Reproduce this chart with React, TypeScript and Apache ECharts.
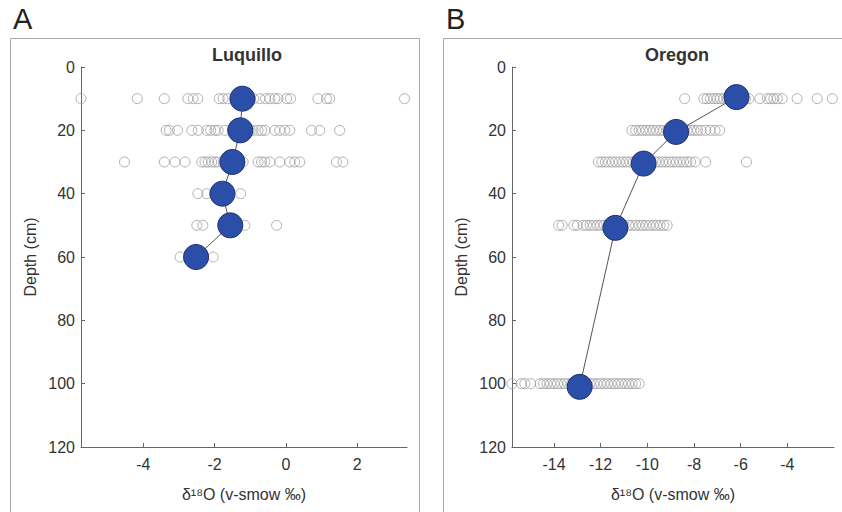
import React, { useEffect, useRef } from "react";
import * as echarts from "echarts";

// ---------- Data ----------
const luqTicks = [-4, -2, 0, 2];
const oreTicks = [-14, -12, -10, -8, -6, -4];

// Luquillo individual samples (δ18O) by depth
const luqDepths = [10, 20, 30, 40, 50, 60];
const luq10 = [-5.75, -4.17, -3.41, -2.75, -2.6, -2.47, -1.87, -1.76, -1.63, -1.4, -1.0, -0.9, -0.73, -0.57, -0.45, -0.31, -0.22, 0.02, 0.13, 0.9, 1.14, 1.23, 3.33];
const luq20 = [-3.36, -3.27, -3.04, -2.64, -2.46, -2.22, -2.11, -1.99, -1.9, -1.71, -1.5, -1.1, -1.0, -0.92, -0.78, -0.68, -0.59, -0.31, -0.17, -0.03, 0.11, 0.72, 0.95, 1.51];
const luq30 = [-4.53, -3.41, -3.11, -2.83, -2.36, -2.27, -2.18, -2.08, -1.99, -1.9, -1.76, -1.6, -1.4, -1.3, -1.2, -0.78, -0.68, -0.59, -0.45, -0.17, 0.11, 0.25, 0.39, 1.42, 1.6];
const luq40 = [-2.47, -2.22, -2.0, -1.27];
const luq50 = [-2.5, -2.33, -1.15, -0.26];
const luq60 = [-2.97, -2.04];
const luqMeans = [-1.22, -1.28, -1.5, -1.78, -1.56, -2.52];

// Oregon individual samples (δ18O) by depth
const oreDepths = [10, 20, 30, 50, 100];
const oreMeanDepths = [9.5, 20.5, 30.5, 50.8, 101];
const ore10 = [-8.4, -7.58, -7.44, -7.3, -7.15, -7.01, -6.87, -6.73, -6.58, -6.4, -6.2, -6.0, -5.9, -5.8, -5.65, -5.18, -4.86, -4.72, -4.58, -4.43, -4.22, -3.58, -2.72, -2.07];
const ore20 = [-10.66, -10.5, -10.35, -10.2, -10.05, -9.9, -9.75, -9.6, -9.45, -9.3, -9.16, -8.9, -8.6, -8.44, -8.3, -8.15, -8.0, -7.85, -7.7, -7.5, -7.3, -7.1, -6.9];
const ore30 = [-12.1, -11.95, -11.8, -11.65, -11.5, -11.35, -11.2, -11.05, -10.9, -10.75, -10.6, -10.3, -9.9, -9.65, -9.5, -9.35, -9.2, -9.05, -8.9, -8.75, -8.6, -8.45, -8.3, -8.15, -7.95, -7.5, -5.75];
const ore50 = [-13.8, -13.65, -13.15, -13.0, -12.75, -12.6, -12.45, -12.3, -12.15, -12.0, -11.85, -11.6, -11.2, -11.0, -10.8, -10.65, -10.5, -10.35, -10.2, -10.05, -9.9, -9.75, -9.6, -9.45, -9.3, -9.15];
const ore100 = [-15.8, -15.4, -15.25, -15.0, -14.6, -14.45, -14.3, -14.15, -14.0, -13.85, -13.7, -13.55, -13.4, -13.25, -13.0, -12.8, -12.6, -12.45, -12.3, -12.15, -12.0, -11.85, -11.7, -11.55, -11.4, -11.25, -11.1, -10.95, -10.8, -10.65, -10.5, -10.35];
const oreMeans = [-6.18, -8.77, -10.16, -11.37, -12.9];

const luqSamples = [luq10, luq20, luq30, luq40, luq50, luq60];
const oreSamples = [ore10, ore20, ore30, ore50, ore100];

function toPairs(groups: number[][], depths: number[]) {
  const out: number[][] = [];
  groups.forEach((g, i) => g.forEach((v) => out.push([v, depths[i]])));
  return out;
}

const FONT = "Liberation Sans, Arial, sans-serif";
const TXT = "#333";
const AXIS = "#666";

function xAxisFor(gridIndex: number, min: number, max: number, ticks: number[]) {
  return {
    type: "value",
    gridIndex,
    min,
    max,
    position: "bottom",
    name: "δ¹⁸O (v-smow ‰)",
    nameLocation: "middle",
    nameGap: 39,
    nameTextStyle: { color: TXT, fontSize: 16, fontFamily: FONT },
    splitLine: { show: false },
    axisLine: { show: true, onZero: false, lineStyle: { color: AXIS, width: 1 } },
    axisTick: { show: true, inside: true, length: 4, customValues: ticks, lineStyle: { color: AXIS } },
    axisLabel: { customValues: ticks, color: TXT, fontSize: 16, fontFamily: FONT, margin: 9 },
  };
}

function yAxisFor(gridIndex: number) {
  return {
    type: "value",
    gridIndex,
    min: 0,
    max: 120,
    interval: 20,
    inverse: true,
    name: "Depth (cm)",
    nameLocation: "middle",
    nameGap: 43,
    nameTextStyle: { color: TXT, fontSize: 16, fontFamily: FONT },
    splitLine: { show: false },
    axisLine: { show: true, onZero: false, lineStyle: { color: AXIS, width: 1 } },
    axisTick: { show: true, inside: true, length: 4, lineStyle: { color: AXIS } },
    axisLabel: { color: TXT, fontSize: 16, fontFamily: FONT, margin: 6 },
  };
}

const scatterStyle = {
  symbol: "circle",
  symbolSize: 10,
  itemStyle: { color: "rgba(255,255,255,0)", borderColor: "#9e9e9e", borderWidth: 1 },
};

const meanStyle = {
  symbol: "circle",
  symbolSize: 25,
  showSymbol: true,
  itemStyle: { color: "#2b4fa8", borderColor: "#1d2f70", borderWidth: 1, opacity: 1 },
  lineStyle: { color: "#555", width: 1 },
};

export default function App() {
  const ref = useRef<HTMLDivElement>(null);
  useEffect(() => {
    document.body.style.margin = "0";
    const chart = echarts.init(ref.current!, null, { renderer: "svg" });
    chart.setOption({
      animation: false,
      backgroundColor: "#fff",
      grid: [
        { left: 81, top: 67, width: 326, height: 380 },
        { left: 512, top: 67, width: 322, height: 380 },
      ],
      xAxis: [xAxisFor(0, -5.75, 3.4, luqTicks), xAxisFor(1, -15.8, -2.0, oreTicks)],
      yAxis: [yAxisFor(0), yAxisFor(1)],
      graphic: [
        { type: "rect", shape: { x: 10.5, y: 38.5, width: 409, height: 490 }, style: { fill: "none", stroke: "#a8a8a8", lineWidth: 1 }, silent: true },
        { type: "rect", shape: { x: 443.5, y: 38.5, width: 410, height: 490 }, style: { fill: "none", stroke: "#a8a8a8", lineWidth: 1 }, silent: true },
        { type: "text", x: 13, y: 4, style: { text: "A", fontSize: 29, fontFamily: FONT, fill: "#222" } },
        { type: "text", x: 446, y: 4, style: { text: "B", fontSize: 29, fontFamily: FONT, fill: "#222" } },
        { type: "text", x: 247, y: 46, style: { text: "Luquillo", fontSize: 18, fontWeight: "bold", fontFamily: FONT, fill: "#333", textAlign: "center" } },
        { type: "text", x: 677, y: 46, style: { text: "Oregon", fontSize: 18, fontWeight: "bold", fontFamily: FONT, fill: "#333", textAlign: "center" } },
      ],
      series: [
        { type: "scatter", xAxisIndex: 0, yAxisIndex: 0, data: toPairs(luqSamples, luqDepths), ...scatterStyle, z: 2 },
        { type: "line", xAxisIndex: 0, yAxisIndex: 0, data: luqMeans.map((v, i) => [v, luqDepths[i]]), ...meanStyle, z: 3 },
        { type: "scatter", xAxisIndex: 1, yAxisIndex: 1, data: toPairs(oreSamples, oreDepths), ...scatterStyle, z: 2 },
        { type: "line", xAxisIndex: 1, yAxisIndex: 1, data: oreMeans.map((v, i) => [v, oreMeanDepths[i]]), ...meanStyle, z: 3 },
      ],
    });
    return () => chart.dispose();
  }, []);
  return <div ref={ref} style={{ width: 842, height: 512 }} />;
}
